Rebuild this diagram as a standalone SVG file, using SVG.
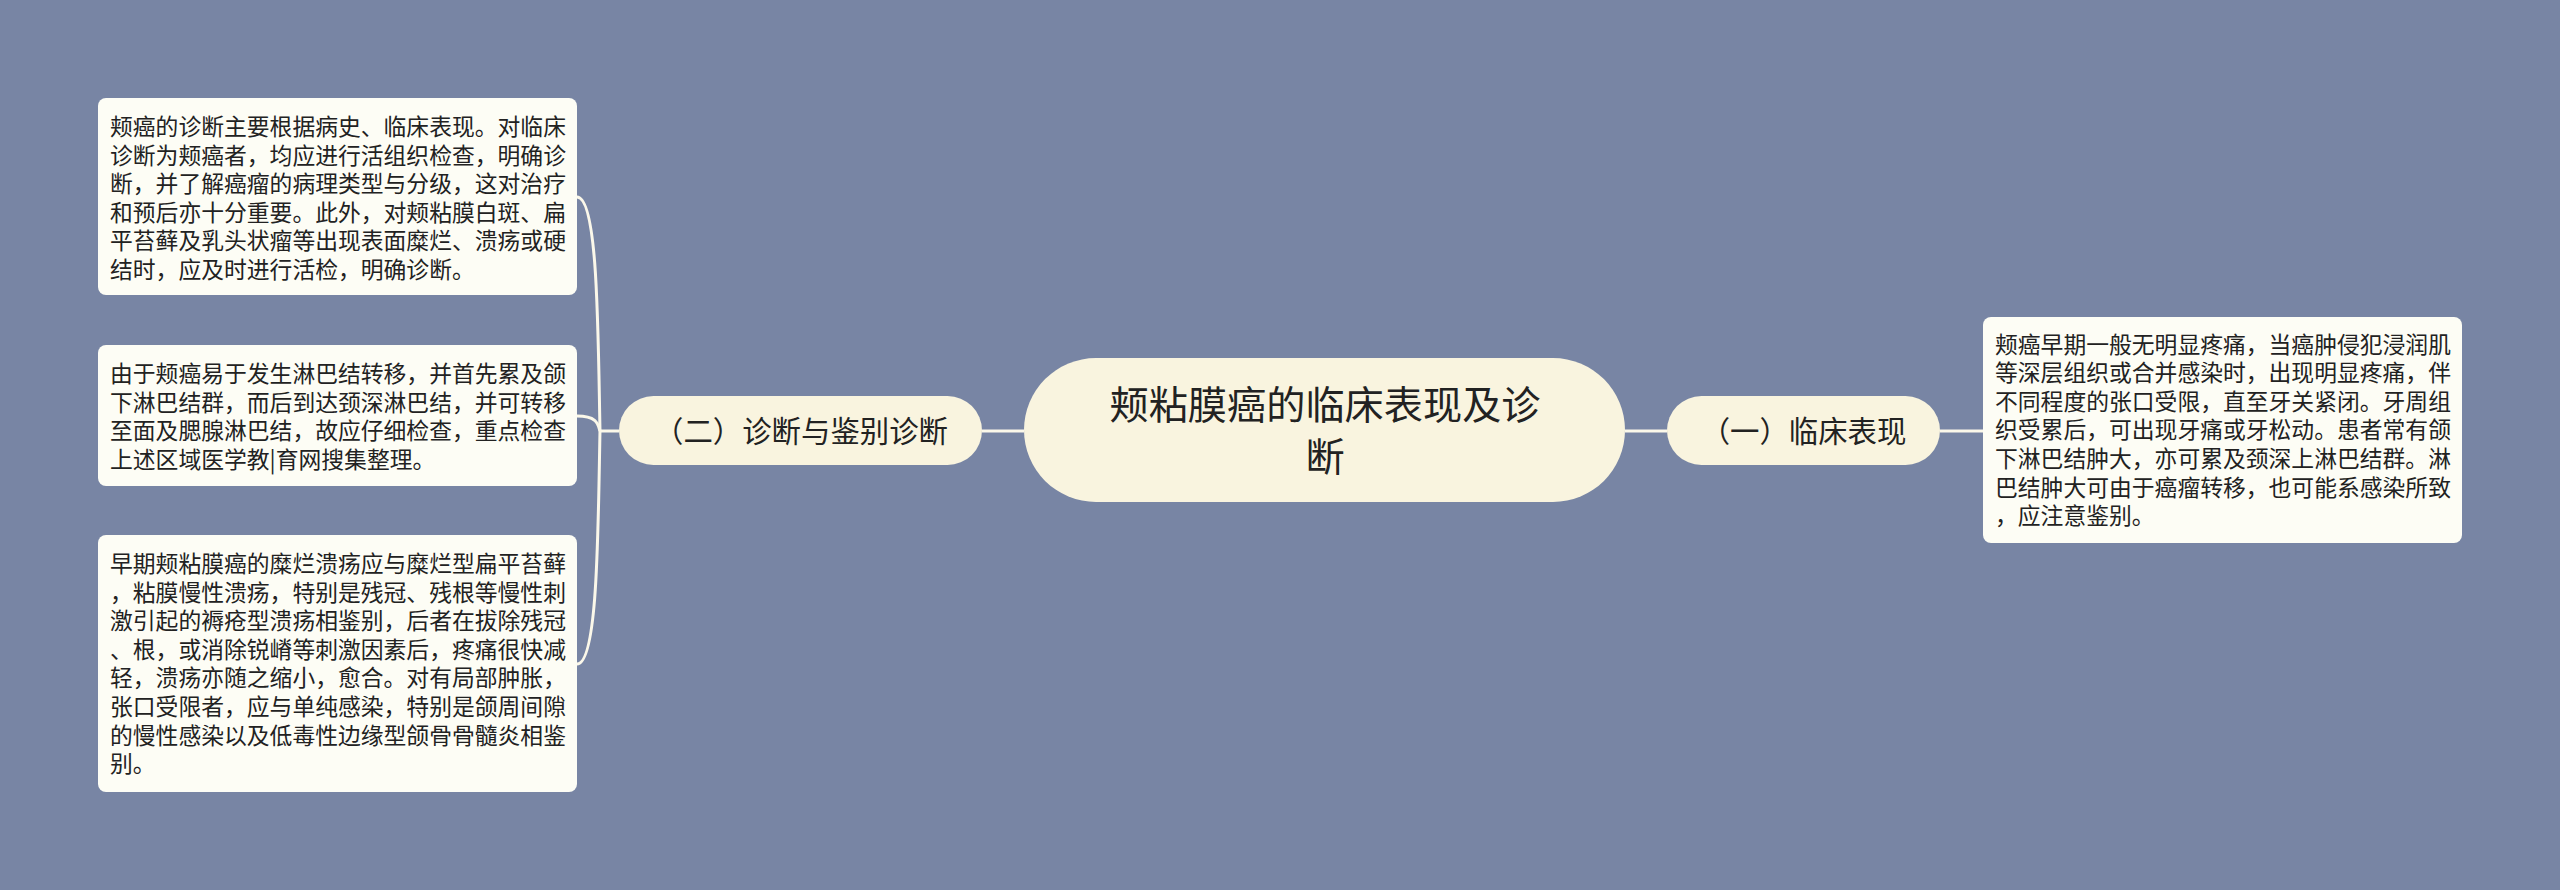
<svg xmlns="http://www.w3.org/2000/svg" width="2560" height="890" viewBox="0 0 2560 890">
<style>
.leaf rect{fill:#fdfdf5;}
.leaf text{font-family:"Noto Sans CJK SC","Noto Sans",sans-serif;font-size:22.8px;fill:#222222;}
.pill rect{fill:#f9f4df;}
.pill text{font-family:"Noto Sans CJK SC","Noto Sans",sans-serif;font-size:29.4px;fill:#222222;text-anchor:middle;}
.root rect{fill:#f9f4df;}
.root text{font-family:"Noto Sans CJK SC","Noto Sans",sans-serif;font-size:39.2px;fill:#222222;text-anchor:middle;}
.conn path{fill:none;stroke:#fbf8ea;stroke-width:3;}
</style>
<rect x="0" y="0" width="2560" height="890" fill="#7885a4"/>
<g id="connectors" class="conn">
<path d="M1024 431 L982 431"/>
<path d="M1625 431 L1667 431"/>
<path d="M1940 431 L1983 431"/>
<path d="M619 431 L600 431"/>
<path d="M600 431 C598 330 598 197 577 197"/>
<path d="M600 431 C598 425 598 416 577 416"/>
<path d="M600 431 C598 530 598 664 577 664"/>
</g>
<g id="root" class="root">
<rect x="1024" y="358" width="601" height="144" rx="72" ry="72"/>
<text x="1325" y="419">颊粘膜癌的临床表现及诊</text>
<text x="1325" y="471">断</text>
</g>
<g id="branch-2" class="pill">
<rect x="619" y="396" width="363" height="69" rx="34.5" ry="34.5"/>
<text x="801" y="442">（二）诊断与鉴别诊断</text>
</g>
<g id="branch-1" class="pill">
<rect x="1667" y="396" width="273" height="69" rx="34.5" ry="34.5"/>
<text x="1803.5" y="442">（一）临床表现</text>
</g>
<g id="leaf-2-1" class="leaf">
<rect x="98" y="98" width="479" height="197" rx="8" ry="8"/>
<text x="110" y="135">颊癌的诊断主要根据病史、临床表现。对临床</text>
<text x="110" y="163.6">诊断为颊癌者，均应进行活组织检查，明确诊</text>
<text x="110" y="192.2">断，并了解癌瘤的病理类型与分级，这对治疗</text>
<text x="110" y="220.8">和预后亦十分重要。此外，对颊粘膜白斑、扁</text>
<text x="110" y="249.4">平苔藓及乳头状瘤等出现表面糜烂、溃疡或硬</text>
<text x="110" y="278">结时，应及时进行活检，明确诊断。</text>
</g>
<g id="leaf-2-2" class="leaf">
<rect x="98" y="345" width="479" height="141" rx="8" ry="8"/>
<text x="110" y="382">由于颊癌易于发生淋巴结转移，并首先累及颌</text>
<text x="110" y="410.6">下淋巴结群，而后到达颈深淋巴结，并可转移</text>
<text x="110" y="439.2">至面及腮腺淋巴结，故应仔细检查，重点检查</text>
<text x="110" y="467.8">上述区域医学教|育网搜集整理。</text>
</g>
<g id="leaf-2-3" class="leaf">
<rect x="98" y="535" width="479" height="257" rx="8" ry="8"/>
<text x="110" y="572">早期颊粘膜癌的糜烂溃疡应与糜烂型扁平苔藓</text>
<text x="110" y="600.6">，粘膜慢性溃疡，特别是残冠、残根等慢性刺</text>
<text x="110" y="629.2">激引起的褥疮型溃疡相鉴别，后者在拔除残冠</text>
<text x="110" y="657.8">、根，或消除锐嵴等刺激因素后，疼痛很快减</text>
<text x="110" y="686.4">轻，溃疡亦随之缩小，愈合。对有局部肿胀，</text>
<text x="110" y="715">张口受限者，应与单纯感染，特别是颌周间隙</text>
<text x="110" y="743.6">的慢性感染以及低毒性边缘型颌骨骨髓炎相鉴</text>
<text x="110" y="772.2">别。</text>
</g>
<g id="leaf-1-1" class="leaf">
<rect x="1983" y="317" width="479" height="226" rx="8" ry="8"/>
<text x="1995" y="352.5">颊癌早期一般无明显疼痛，当癌肿侵犯浸润肌</text>
<text x="1995" y="381.1">等深层组织或合并感染时，出现明显疼痛，伴</text>
<text x="1995" y="409.7">不同程度的张口受限，直至牙关紧闭。牙周组</text>
<text x="1995" y="438.3">织受累后，可出现牙痛或牙松动。患者常有颌</text>
<text x="1995" y="466.9">下淋巴结肿大，亦可累及颈深上淋巴结群。淋</text>
<text x="1995" y="495.5">巴结肿大可由于癌瘤转移，也可能系感染所致</text>
<text x="1995" y="524.1">，应注意鉴别。</text>
</g>
</svg>
